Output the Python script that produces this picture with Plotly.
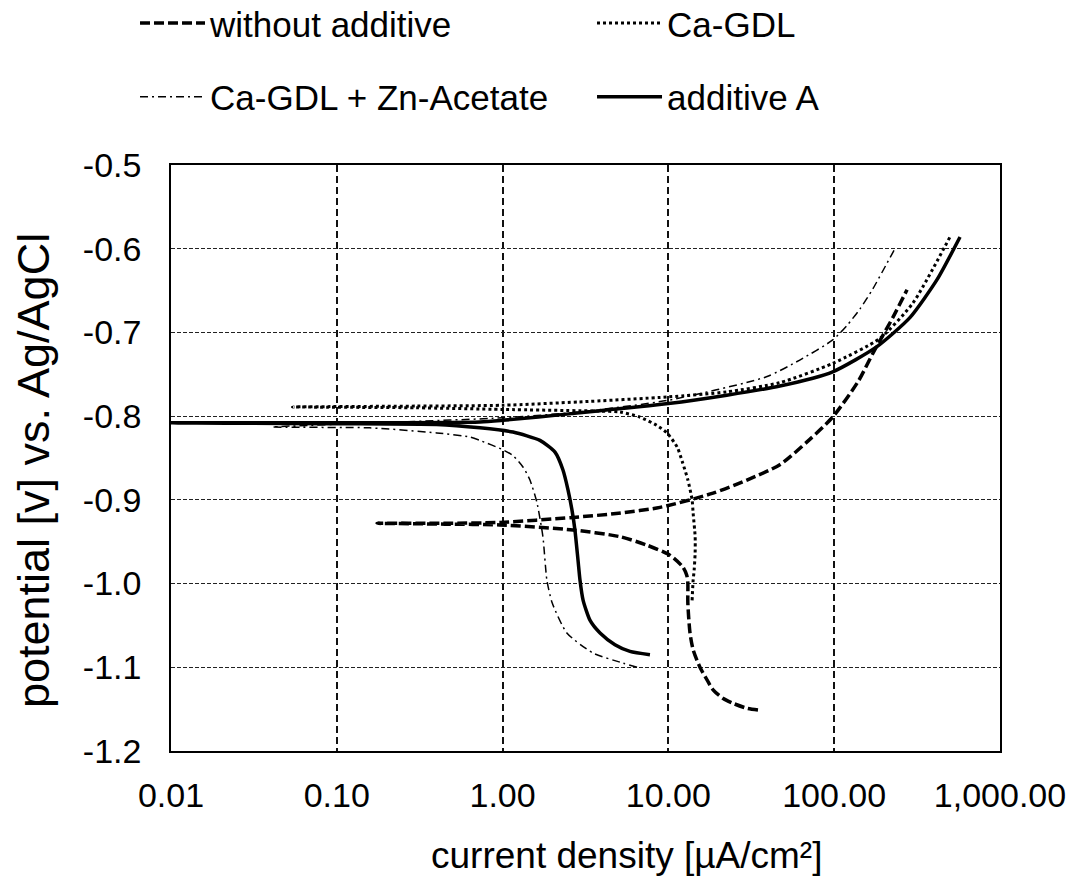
import plotly.graph_objects as go

# ---- data (current density in µA/cm², potential in V vs. Ag/AgCl) ----
wo_x = [34.7, 29.8, 24.5, 21.3, 18.6, 17.1, 15.5, 14.1, 13.5, 13.1, 13.1, 12.9, 12.2, 10.2, 7.4, 5.1, 2.66, 0.96, 0.45, 0.175,
        0.45, 0.96, 2.66, 5.0, 8.9, 18.6, 30.0, 47.0, 71.0, 98.0, 140.0, 171.0, 226.0, 275.0]
wo_y = [-1.151, -1.149, -1.143, -1.137, -1.127, -1.115, -1.100, -1.079, -1.059, -1.023, -0.999, -0.990, -0.980, -0.966, -0.954, -0.944, -0.936, -0.930, -0.929, -0.928,
        -0.928, -0.927, -0.921, -0.916, -0.909, -0.892, -0.876, -0.858, -0.828, -0.801, -0.758, -0.725, -0.682, -0.649]

ca_x = [13.9, 14.1, 14.3, 14.5, 14.5, 14.1, 13.9, 13.1, 12.2, 11.3, 9.8, 8.5, 6.7, 5.1, 3.9, 1.0, 0.3, 0.054,
        0.3, 1.0, 2.9, 10.0, 22.5, 47.0, 98.0, 189.0, 298.0, 499.0]
ca_y = [-1.020, -0.996, -0.984, -0.963, -0.944, -0.916, -0.900, -0.876, -0.856, -0.837, -0.820, -0.811, -0.801, -0.795, -0.794, -0.792, -0.790, -0.789,
        -0.788, -0.787, -0.783, -0.777, -0.771, -0.760, -0.737, -0.707, -0.665, -0.586]

zn_x = [6.47, 5.32, 3.51, 2.44, 1.99, 1.85, 1.75, 1.61, 1.46, 1.33, 1.155, 1.0, 0.73, 0.635, 0.40, 0.158, 0.041,
        0.24, 1.0, 2.9, 10.0, 39.0, 62.0, 98.0, 119.0, 143.0, 171.0, 206.0, 234.0]
zn_y = [-1.100, -1.095, -1.083, -1.059, -1.023, -0.996, -0.944, -0.903, -0.876, -0.861, -0.847, -0.840, -0.829, -0.825, -0.820, -0.814, -0.813,
        -0.807, -0.802, -0.795, -0.781, -0.753, -0.733, -0.709, -0.692, -0.672, -0.648, -0.619, -0.599]

aa_x = [7.74, 5.86, 4.76, 3.87, 3.37, 3.06, 2.93, 2.85, 2.73, 2.62, 2.48, 2.31, 2.07, 1.68, 1.155, 0.73, 0.4, 0.1, 0.01,
        0.1, 0.73, 1.0, 2.6, 10.0, 22.5, 47.0, 98.0, 181.0, 287.0, 417.0, 574.0]
aa_y = [-1.085, -1.081, -1.073, -1.059, -1.044, -1.020, -0.996, -0.972, -0.936, -0.912, -0.888, -0.864, -0.843, -0.829, -0.819, -0.814, -0.810, -0.809, -0.808,
        -0.808, -0.807, -0.805, -0.797, -0.785, -0.775, -0.764, -0.747, -0.717, -0.682, -0.637, -0.586]

x_tickvals = [0.01, 0.1, 1, 10, 100, 1000]
x_ticktext = ["0.01", "0.10", "1.00", "10.00", "100.00", "1,000.00"]
y_tickvals = [-0.5, -0.6, -0.7, -0.8, -0.9, -1.0, -1.1, -1.2]
y_ticktext = ["-0.5", "-0.6", "-0.7", "-0.8", "-0.9", "-1.0", "-1.1", "-1.2"]
x_title = "current density [µA/cm²]"
y_title = "potential [v] vs. Ag/AgCl"

FONT = "Liberation Sans, Arial, sans-serif"

fig = go.Figure()
fig.add_trace(go.Scatter(x=wo_x, y=wo_y, mode="lines", name="without additive",
                         line=dict(color="black", width=3.5, dash="10px,4px", shape="spline", smoothing=0.7),
                         legend="legend"))
fig.add_trace(go.Scatter(x=ca_x, y=ca_y, mode="lines", name="Ca-GDL",
                         line=dict(color="black", width=3, dash="3px,3px", shape="spline", smoothing=0.6),
                         legend="legend"))
fig.add_trace(go.Scatter(x=zn_x, y=zn_y, mode="lines", name="Ca-GDL + Zn-Acetate",
                         line=dict(color="black", width=1.5, dash="8px,4px,2px,4px", shape="spline", smoothing=0.6),
                         legend="legend2"))
fig.add_trace(go.Scatter(x=aa_x, y=aa_y, mode="lines", name="additive A",
                         line=dict(color="black", width=3.5, shape="spline", smoothing=0.6),
                         legend="legend2"))

legend_common = dict(orientation="h", xanchor="left", yanchor="middle", x=-0.0434,
                     font=dict(family=FONT, size=35, color="black"),
                     itemwidth=65, entrywidth=377, entrywidthmode="pixels",
                     bgcolor="rgba(0,0,0,0)", borderwidth=0)

fig.update_layout(
    width=1078, height=879,
    paper_bgcolor="white", plot_bgcolor="white",
    margin=dict(l=171, r=78, t=165, b=128, autoexpand=False),
    font=dict(family=FONT, color="black"),
    showlegend=True,
    legend=dict(y=1.242, **legend_common),
    legend2=dict(y=1.116, **legend_common),
    xaxis=dict(type="log", range=[-2, 3], tickvals=x_tickvals, ticktext=x_ticktext,
               tickfont=dict(size=34, family=FONT, color="black"), ticks="", ticklabelstandoff=13,
               showgrid=True, gridcolor="#111", gridwidth=2.2, griddash="7px,4px",
               showline=True, linecolor="black", linewidth=1.5, mirror=True, zeroline=False),
    yaxis=dict(range=[-1.2, -0.5], tickvals=y_tickvals, ticktext=y_ticktext,
               tickfont=dict(size=34, family=FONT, color="black"), ticks="", ticklabelstandoff=21,
               showgrid=True, gridcolor="#222", gridwidth=1.2, griddash="4px,2px",
               showline=True, linecolor="black", linewidth=1.5, mirror=True, zeroline=False),
    annotations=[
        dict(text=x_title, xref="paper", yref="paper", x=0.550, y=-0.1775, xanchor="center", yanchor="middle",
             showarrow=False, font=dict(size=37, family=FONT, color="black")),
        dict(text=y_title, xref="paper", yref="paper", x=-0.165, y=0.478, xanchor="center", yanchor="middle",
             textangle=-90, showarrow=False, font=dict(size=45, family=FONT, color="black")),
    ],
)

fig.write_html("out.html", config={"displayModeBar": False},
               post_script="document.body.style.margin='0';")
